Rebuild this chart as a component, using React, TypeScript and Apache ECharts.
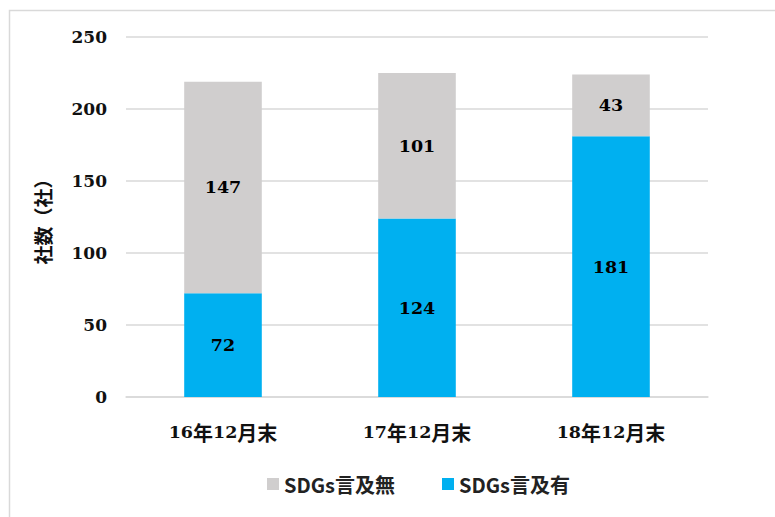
import React, { useEffect, useRef } from "react";
import * as echarts from "echarts";

const categories = ["16年12月末", "17年12月末", "18年12月末"];
const mentioned = [72, 124, 181];
const notMentioned = [147, 101, 43];
const yTicks = { min: 0, max: 250, interval: 50 };

const SERIF = "'DejaVu Serif', 'Noto Sans CJK JP', serif";
const CJK = "'Noto Sans CJK JP', 'Noto Sans', sans-serif";

// Split a category like "16年12月末" into digit / kanji runs so each gets its own font
function richCategory(value: string): string {
  return value
    .split(/(\d+)/)
    .filter((s) => s.length > 0)
    .map((s) => (/^\d+$/.test(s) ? `{n|${s}}` : `{c|${s}}`))
    .join("");
}

export default function App() {
  const ref = useRef<HTMLDivElement>(null);

  useEffect(() => {
    if (!ref.current) return;
    const chart = echarts.init(ref.current, null, { renderer: "svg" });
    const labelStyle = {
      show: true,
      position: "inside" as const,
      color: "#000",
      fontFamily: SERIF,
      fontWeight: "bold" as const,
      fontSize: 17.5,
    };
    chart.setOption({
      animation: false,
      backgroundColor: "#fff",
      graphic: [
        {
          type: "rect",
          shape: { x: 9.5, y: 10.5, width: 900, height: 700 },
          style: { fill: "none", stroke: "#d9d9d9", lineWidth: 1.5 },
          silent: true,
        },
      ],
      grid: { left: 126, right: 67, top: 37, bottom: 120 },
      legend: {
        data: ["SDGs言及無", "SDGs言及有"],
        left: 262,
        top: 469,
        itemWidth: 12,
        itemHeight: 12,
        itemGap: 47,
        icon: "rect",
        textStyle: {
          fontFamily: CJK,
          fontWeight: "bold",
          fontSize: 20,
          color: "#222",
        },
      },
      xAxis: {
        type: "category",
        data: categories,
        axisLine: { lineStyle: { color: "#d9d9d9", width: 1.5 } },
        axisTick: { show: false },
        axisLabel: {
          margin: 25,
          color: "#111",
          formatter: (v: string) => richCategory(v),
          rich: {
            n: {
              fontFamily: SERIF,
              fontWeight: "bold",
              fontSize: 17.5,
              color: "#111",
            },
            c: {
              fontFamily: CJK,
              fontWeight: "bold",
              fontSize: 20,
              color: "#111",
            },
          },
        },
      },
      yAxis: {
        type: "value",
        min: yTicks.min,
        max: yTicks.max,
        interval: yTicks.interval,
        name: "社数（社）",
        nameLocation: "middle",
        nameRotate: 90,
        nameGap: 74,
        nameTextStyle: {
          fontFamily: CJK,
          fontWeight: "bold",
          fontSize: 19,
          color: "#111",
        },
        splitLine: { lineStyle: { color: "#d9d9d9", width: 1.5 } },
        axisLabel: {
          margin: 19,
          color: "#111",
          fontFamily: SERIF,
          fontWeight: "bold",
          fontSize: 17,
        },
      },
      series: [
        {
          name: "SDGs言及有",
          type: "bar",
          stack: "total",
          barWidth: "40%",
          data: mentioned,
          itemStyle: { color: "#00B0F0" },
          label: labelStyle,
        },
        {
          name: "SDGs言及無",
          type: "bar",
          stack: "total",
          barWidth: "40%",
          data: notMentioned,
          itemStyle: { color: "#D0CECE" },
          label: labelStyle,
        },
      ],
    });
    return () => chart.dispose();
  }, []);

  return (
    <div
      ref={ref}
      style={{ position: "fixed", left: 0, top: 0, width: 775, height: 517 }}
    />
  );
}
